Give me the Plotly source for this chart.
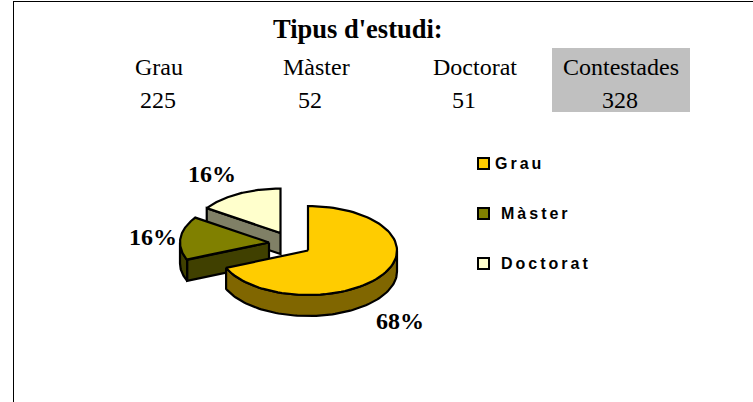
import numpy as np
import plotly.graph_objects as go

CATEGORIES = ["Grau", "Màster", "Doctorat"]
COUNTS = [225, 52, 51]
TOTAL_LABEL = "Contestades"
TOTAL = 328
PCT_LABELS = ["68%", "16%", "16%"]
TITLE = "Tipus d'estudi:"

TOP_COLORS = ["#FFCC00", "#808000", "#FFFFCC"]
SIDE_COLORS = ["#806600", "#404000", "#808066"]

# canvas-space geometry of the tilted, exploded pie
APEX = [(308, 250.5), (269, 242.5), (280.5, 233)]
RX, RY, DEPTH = 89, 44.5, 21
SERIF = "Liberation Serif"
SANS = "Liberation Sans"

fractions = np.array(COUNTS) / sum(COUNTS)
edges = np.concatenate([[0], np.cumsum(fractions)]) * 2 * np.pi


def rim(cx, cy, a0, a1, n=90, dy=0):
    t = np.linspace(a0, a1, n)
    return cx + RX * np.sin(t), cy - RY * np.cos(t) + dy


def poly(xs, ys, fill):
    return go.Scatter(
        x=list(xs) + [xs[0]], y=list(ys) + [ys[0]], mode="lines", fill="toself",
        fillcolor=fill, line=dict(color="black", width=2.2), hoverinfo="skip",
        showlegend=False,
    )


fig = go.Figure()
for i in [2, 1, 0]:
    cx, cy = APEX[i]
    a0, a1 = edges[i], edges[i + 1]
    # cut face on the trailing edge, when it faces the viewer
    if i in (1, 2):
        ex, ey = cx + RX * np.sin(a0), cy - RY * np.cos(a0)
        fig.add_trace(poly([cx, ex, ex, cx], [cy, ey, ey + DEPTH, cy + DEPTH], SIDE_COLORS[i]))
    # curved outer wall for the part of the arc facing the viewer
    lo, hi = max(a0, np.pi / 2), min(a1, 3 * np.pi / 2)
    if lo < hi:
        x1, y1 = rim(cx, cy, lo, hi)
        x2, y2 = rim(cx, cy, hi, lo, dy=DEPTH)
        fig.add_trace(poly(np.r_[x1, x2], np.r_[y1, y2], SIDE_COLORS[i]))
    # top face
    x, y = rim(cx, cy, a0, a1)
    fig.add_trace(poly(np.r_[cx, x], np.r_[cy, y], TOP_COLORS[i]))

# legend swatches
LEG_Y = [163.5, 213.5, 263.5]
LEG_TEXT_X = [494, 500, 500]
fig.add_trace(go.Scatter(
    x=[483.5] * 3, y=LEG_Y, mode="markers", hoverinfo="skip", showlegend=False,
    marker=dict(symbol="square", size=11, color=TOP_COLORS, line=dict(color="black", width=2)),
))


def note(x, y, text, size, family=SERIF, bold=False, anchor="center", align="center"):
    fig.add_annotation(
        x=x, y=y, xref="x", yref="y", text=f"<b>{text}</b>" if bold else text, showarrow=False,
        xanchor=anchor, yanchor="middle", align=align, borderpad=0,
        font=dict(family=family, size=size, color="black"),
    )


note(358, 29, TITLE, 26.5, bold=True)
for cat, n, xc, xv in zip(CATEGORIES, COUNTS, [158.5, 316, 474.5], [158, 310, 463.5]):
    note(xc, 67, cat, 24)
    note(xv, 100, str(n), 24)
note(620.5, 67, TOTAL_LABEL, 24)
note(620, 100, str(TOTAL), 24)

for lab, x, y in zip(PCT_LABELS, [399.5, 152.5, 212], [321, 237, 174]):
    note(x, y, lab, 24, bold=True)
for cat, x, y in zip(CATEGORIES, LEG_TEXT_X, LEG_Y):
    note(x, y, cat, 16, family=SANS, bold=True, anchor="left", align="left")

fig.update_layout(
    width=753, height=402, margin=dict(l=0, r=0, t=0, b=0),
    paper_bgcolor="white", plot_bgcolor="white", showlegend=False,
    xaxis=dict(range=[0, 753], visible=False, fixedrange=True),
    yaxis=dict(range=[402, 0], visible=False, fixedrange=True),
    shapes=[
        dict(type="rect", layer="below", x0=552, x1=690, y0=48, y1=112,
             fillcolor="#C0C0C0", line=dict(width=0)),
        dict(type="line", x0=13.5, x1=13.5, y0=1, y1=402, line=dict(color="black", width=1)),
        dict(type="line", x0=13, x1=753, y0=1.5, y1=1.5, line=dict(color="black", width=1)),
    ],
)

post = """
document.body.style.margin='0';document.body.style.overflow='hidden';
function sp(){document.querySelectorAll('.annotation-text').forEach(function(t){
 if(['Grau','Màster','Doctorat'].indexOf(t.textContent)>=0 && t.style.fontFamily.indexOf('Sans')>=0){t.style.letterSpacing='3px';}
});}
sp();setTimeout(sp,50);setTimeout(sp,300);
"""
fig.write_html("out.html", post_script=post, config=dict(displayModeBar=False))
